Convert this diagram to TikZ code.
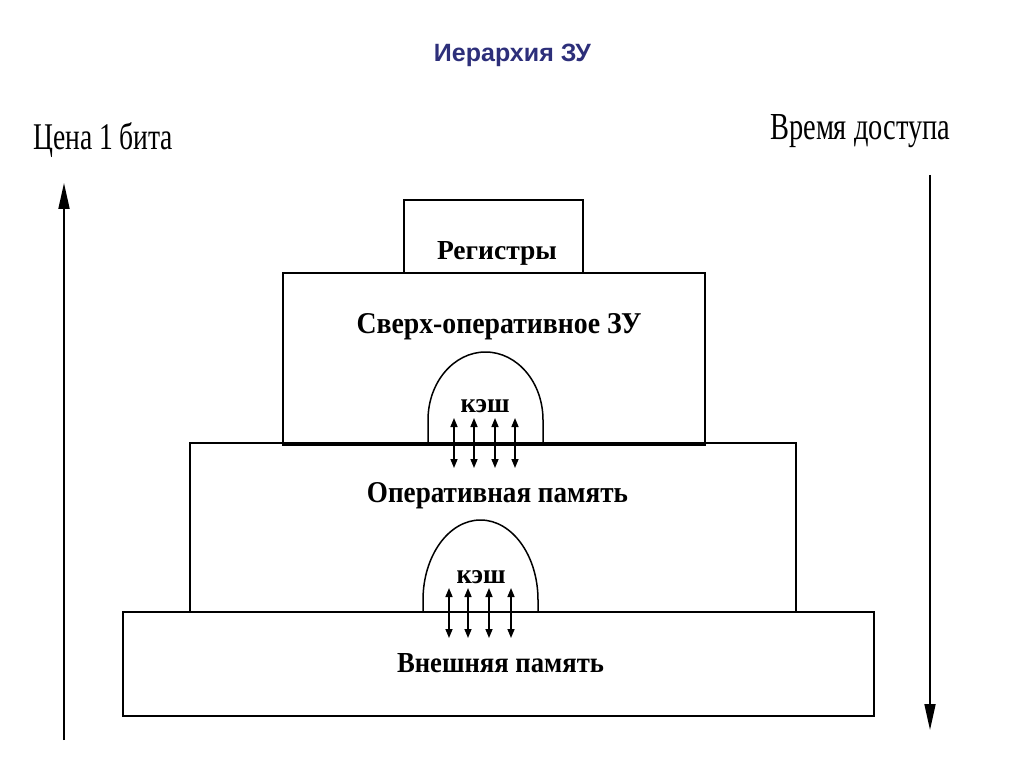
\documentclass[tikz,border=0pt]{standalone}
\usepackage{fontspec}
\setmainfont{Liberation Serif}
\newfontfamily\titlefont{Liberation Sans}
\usetikzlibrary{arrows.meta}
\definecolor{titleblue}{RGB}{45,47,122}
\tikzset{
  box/.style={draw, line width=1.8pt, minimum width=#1, inner sep=0pt},
  lbl/.style={anchor=base, inner sep=0pt},
  bigarrow/.style={line width=1.8pt, -{Triangle[length=26pt,width=11pt]}},
  cachearrow/.style={line width=1.5pt, {Triangle[length=9pt,width=7pt]}-{Triangle[length=9pt,width=7pt]}},
  dome/.style={line width=1.5pt},
}
\begin{document}
\begin{tikzpicture}[x=1pt,y=-1pt]
\useasboundingbox (0,0) rectangle (1024,767);
% title
\node[lbl, text=titleblue, font=\titlefont\bfseries\fontsize{25}{30}\selectfont] (title) at (512.5,62) {Иерархия ЗУ};
% boxes
\node[box=751pt, minimum height=104pt] (ext) at (498.5,664) {};
\node[box=606pt, minimum height=169pt] (ram) at (493,527.5) {};
\node[box=422pt, minimum height=170pt] (sram) at (494,358) {};
\node[box=179pt, minimum height=73pt] (reg) at (493.5,236.5) {};
\draw[line width=4.5pt] (sram.south west) -- (sram.south east);
% labels
\node[lbl] (lreg) at (497,259) {\resizebox{120pt}{18pt}{\bfseries Регистры}};
\node[lbl] (lsram) at (499,333) {\resizebox{285pt}{20pt}{\bfseries Сверх-оперативное ЗУ}};
\node[lbl] (lram) at (497.5,502) {\resizebox{261pt}{20pt}{\bfseries Оперативная память}};
\node[lbl] (lext) at (500.5,672) {\resizebox{207pt}{19pt}{\bfseries Внешняя память}};
% cache domes
\draw[dome] (428,443) -- (428,420) arc[start angle=180,end angle=360,x radius=57.5,y radius=68] -- (543,443);
\draw[dome] (423,612) -- (423,600) arc[start angle=180,end angle=360,x radius=57.5,y radius=80] -- (538,612);
\node[lbl] (c1) at (485,412) {\resizebox{49pt}{13pt}{\bfseries кэш}};
\node[lbl] (c2) at (481,583) {\resizebox{49pt}{13pt}{\bfseries кэш}};
% cache arrows
\foreach \i/\x in {1/454,2/474,3/495,4/515}{
  \coordinate (a\i t) at (\x,418);
  \coordinate (a\i b) at (\x,468);
  \draw[cachearrow] (a\i t) -- (a\i b);
}
\foreach \i/\x in {1/449,2/468,3/489,4/511}{
  \coordinate (b\i t) at (\x,588);
  \coordinate (b\i b) at (\x,638);
  \draw[cachearrow] (b\i t) -- (b\i b);
}
% side axes
\node[anchor=base west, inner sep=0pt] (cost) at (33,150) {\resizebox{140pt}{27pt}{Цена 1 бита}};
\node[anchor=base west, inner sep=0pt] (time) at (770,140) {\resizebox{180pt}{25pt}{Время доступа}};
\coordinate (costlo) at (64,740);
\coordinate (costhi) at (64,183);
\coordinate (timehi) at (930,175);
\coordinate (timelo) at (930,730);
\draw[bigarrow] (costlo) -- (costhi);
\draw[bigarrow] (timehi) -- (timelo);
\end{tikzpicture}
\end{document}
